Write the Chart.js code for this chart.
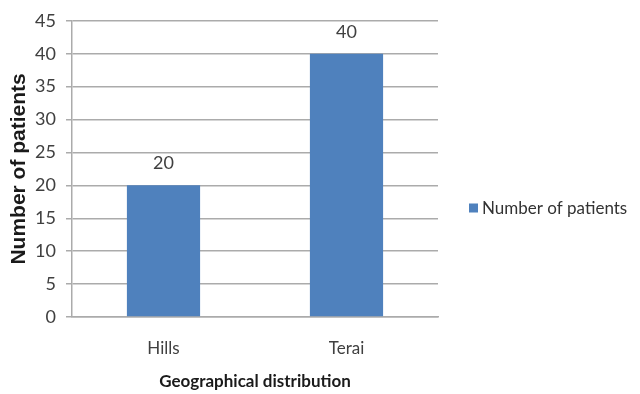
<!DOCTYPE html>
<html>
<head>
<meta charset="utf-8">
<script src="https://cdn.jsdelivr.net/npm/chart.js@4"></script>
<style>
  html, body { margin: 0; padding: 0; background: #fff; }
  #wrap { width: 640px; height: 394px; position: relative; }
</style>
</head>
<body>
<div id="wrap"><canvas id="c"></canvas></div>
<script>
// Patients by region
const categories = ['Hills', 'Terai'];
const patientCounts = [20, 40];
const seriesName = 'Number of patients';
const yTicks = [0, 5, 10, 15, 20, 25, 30, 35, 40, 45];

const BODY_FONT = "Lato, 'Liberation Sans', sans-serif";
const BAR_COLOR = '#4F81BD';
const TEXT_COLOR = '#404040';
const GRID_COLOR = '#ababab';

// Value labels above each bar
const valueLabels = {
  id: 'valueLabels',
  afterDatasetsDraw(chart) {
    const ctx = chart.ctx;
    const meta = chart.getDatasetMeta(0);
    ctx.save();
    ctx.font = '18px ' + BODY_FONT;
    ctx.fillStyle = TEXT_COLOR;
    ctx.textAlign = 'center';
    ctx.textBaseline = 'middle';
    meta.data.forEach((bar, i) => {
      ctx.fillText(String(chart.data.datasets[0].data[i]), bar.x, bar.y - 22);
    });
    ctx.restore();
  }
};

// Series key to the right of the plot
const sideLegend = {
  id: 'sideLegend',
  afterDraw(chart) {
    const ctx = chart.ctx;
    const ds = chart.data.datasets[0];
    const x = chart.chartArea.right + 31;
    const y = 208;
    ctx.save();
    ctx.fillStyle = ds.backgroundColor;
    ctx.fillRect(x, y - 4.5, 9, 9);
    ctx.font = '17px ' + BODY_FONT;
    ctx.fillStyle = '#333333';
    ctx.textAlign = 'left';
    ctx.textBaseline = 'middle';
    ctx.fillText(ds.label, x + 13, y + 1);
    ctx.restore();
  }
};

new Chart(document.getElementById('c'), {
  type: 'bar',
  data: {
    labels: categories,
    datasets: [{
      label: seriesName,
      data: patientCounts,
      backgroundColor: BAR_COLOR,
      borderWidth: 0,
      categoryPercentage: 1.0,
      barPercentage: 0.4
    }]
  },
  options: {
    responsive: true,
    maintainAspectRatio: false,
    animation: false,
    layout: { padding: { left: 0, right: 202, top: 19, bottom: 0 } },
    plugins: {
      legend: { display: false },
      tooltip: { enabled: false }
    },
    scales: {
      x: {
        afterFit(scale) { scale.height = 77; },
        grid: { display: false },
        border: { display: true, color: GRID_COLOR, width: 1.5 },
        ticks: {
          color: TEXT_COLOR,
          font: { family: BODY_FONT, size: 17 },
          padding: 13
        },
        title: {
          display: true,
          text: 'Geographical distribution',
          color: '#1a1a1a',
          font: { family: BODY_FONT, size: 17, weight: 'bold' },
          padding: { top: 0, bottom: 2 }
        }
      },
      y: {
        min: 0,
        max: 45,
        afterFit(scale) { scale.width = 72; },
        afterBuildTicks(scale) { scale.ticks = yTicks.map(v => ({ value: v })); },
        grid: {
          color: GRID_COLOR,
          lineWidth: 1.5,
          drawTicks: true,
          tickLength: 6,
          tickColor: GRID_COLOR
        },
        border: { display: true, color: GRID_COLOR, width: 1.5 },
        ticks: {
          color: TEXT_COLOR,
          font: { family: BODY_FONT, size: 18 },
          padding: 10
        },
        title: {
          display: true,
          text: 'Number of patients',
          color: '#1a1a1a',
          font: { family: "'Liberation Sans', Arial, sans-serif", size: 21, weight: 'bold' },
          padding: { top: 7, bottom: 0 }
        }
      }
    }
  },
  plugins: [valueLabels, sideLegend]
});
</script>
</body>
</html>
